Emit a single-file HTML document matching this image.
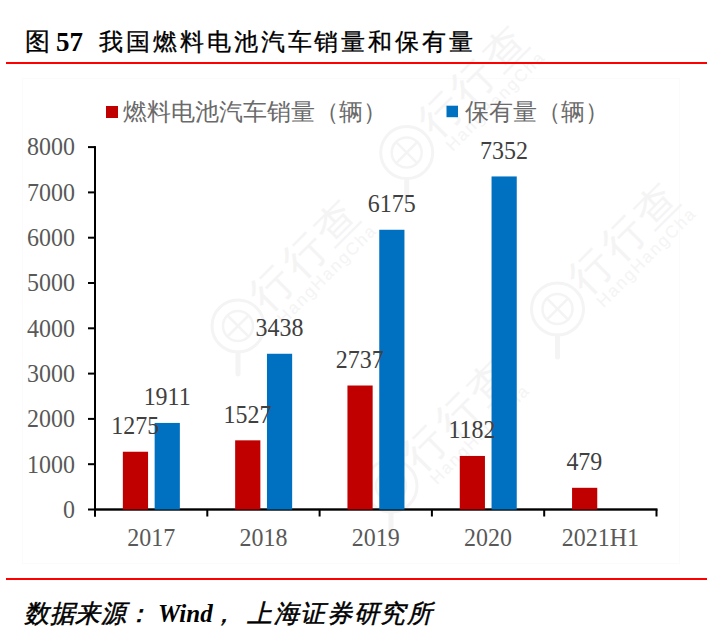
<!DOCTYPE html>
<html><head><meta charset="utf-8">
<style>
html,body{margin:0;padding:0;background:#fff;}
body{width:707px;height:642px;position:relative;overflow:hidden;font-family:"Liberation Serif",serif;}
.t{position:absolute;white-space:nowrap;line-height:1;color:#000;}
.rl{position:absolute;z-index:2;left:6px;width:701px;height:2px;background:#FF0000;}
.frame{position:absolute;left:22px;top:78px;width:656px;height:484px;border:1px solid #fbfbfb;}
svg{position:absolute;left:0;top:0;}
.ax{font-family:"Liberation Serif",serif;font-size:25.5px;fill:#595959;}
.dl{font-family:"Liberation Serif",serif;font-size:25.5px;fill:#404040;}
.lg{font-family:"Liberation Serif",serif;font-size:24px;fill:#6a6a6a;}
</style></head><body>
<div class="frame"></div>
<div class="t" style="left:25px;top:29px;font-size:25px;-webkit-text-stroke:0.3px #000;">图</div>
<div class="t" style="left:56px;top:29px;font-size:27px;font-weight:bold;">57</div>
<div class="t" style="left:99px;top:30px;font-size:24px;letter-spacing:2.93px;-webkit-text-stroke:0.3px #000;">我国燃料电池汽车销量和保有量</div>
<div class="rl" style="top:61.5px"></div>
<svg width="707" height="642" viewBox="0 0 707 642">
<g transform="translate(406.7,152.6)" fill="none" stroke="#f4f4f4">
<circle r="26" stroke-width="3"/><circle r="15" stroke-width="2.5"/>
<path d="M-10,-10 L10,10 M10,-10 L-10,10" stroke-width="2.5"/>
<path d="M0,27 L0,48" stroke-width="5" stroke-linecap="round"/>
<g transform="rotate(-45)" stroke="none" fill="#f4f4f4">
<text x="30" y="11" style="font-family:'Liberation Sans',sans-serif;font-size:42px;letter-spacing:4px;">行行查</text>
<text x="33" y="32" textLength="131" style="font-family:'Liberation Sans',sans-serif;font-size:17px;">HangHangCha</text>
</g></g>
<g transform="translate(557.5,309)" fill="none" stroke="#f4f4f4">
<circle r="26" stroke-width="3"/><circle r="15" stroke-width="2.5"/>
<path d="M-10,-10 L10,10 M10,-10 L-10,10" stroke-width="2.5"/>
<path d="M0,27 L0,48" stroke-width="5" stroke-linecap="round"/>
<g transform="rotate(-45)" stroke="none" fill="#f4f4f4">
<text x="30" y="11" style="font-family:'Liberation Sans',sans-serif;font-size:42px;letter-spacing:4px;">行行查</text>
<text x="33" y="32" textLength="131" style="font-family:'Liberation Sans',sans-serif;font-size:17px;">HangHangCha</text>
</g></g>
<g transform="translate(238,326)" fill="none" stroke="#f4f4f4">
<circle r="26" stroke-width="3"/><circle r="15" stroke-width="2.5"/>
<path d="M-10,-10 L10,10 M10,-10 L-10,10" stroke-width="2.5"/>
<path d="M0,27 L0,48" stroke-width="5" stroke-linecap="round"/>
<g transform="rotate(-45)" stroke="none" fill="#f4f4f4">
<text x="30" y="11" style="font-family:'Liberation Sans',sans-serif;font-size:42px;letter-spacing:4px;">行行查</text>
<text x="33" y="32" textLength="131" style="font-family:'Liberation Sans',sans-serif;font-size:17px;">HangHangCha</text>
</g></g>
<g transform="translate(391,486)" fill="none" stroke="#f4f4f4">
<circle r="26" stroke-width="3"/><circle r="15" stroke-width="2.5"/>
<path d="M-10,-10 L10,10 M10,-10 L-10,10" stroke-width="2.5"/>
<path d="M0,27 L0,48" stroke-width="5" stroke-linecap="round"/>
<g transform="rotate(-45)" stroke="none" fill="#f4f4f4">
<text x="30" y="11" style="font-family:'Liberation Sans',sans-serif;font-size:42px;letter-spacing:4px;">行行查</text>
<text x="33" y="32" textLength="131" style="font-family:'Liberation Sans',sans-serif;font-size:17px;">HangHangCha</text>
</g></g>
<rect x="106" y="106" width="12" height="12" fill="#C00000"/>
<text x="123" y="120" class="lg">燃料电池汽车销量（辆）</text>
<rect x="446.5" y="105.7" width="11.5" height="11.5" fill="#0070C0"/>
<text x="465" y="120" class="lg">保有量（辆）</text>
<rect x="88" y="508.50" width="7" height="2" fill="#000"/>
<text transform="translate(75.00,517.80) scale(0.94,1)" text-anchor="end" class="ax">0</text>
<rect x="88" y="463.20" width="7" height="2" fill="#000"/>
<text transform="translate(75.00,472.50) scale(0.94,1)" text-anchor="end" class="ax">1000</text>
<rect x="88" y="417.90" width="7" height="2" fill="#000"/>
<text transform="translate(75.00,427.20) scale(0.94,1)" text-anchor="end" class="ax">2000</text>
<rect x="88" y="372.60" width="7" height="2" fill="#000"/>
<text transform="translate(75.00,381.90) scale(0.94,1)" text-anchor="end" class="ax">3000</text>
<rect x="88" y="327.30" width="7" height="2" fill="#000"/>
<text transform="translate(75.00,336.60) scale(0.94,1)" text-anchor="end" class="ax">4000</text>
<rect x="88" y="282.00" width="7" height="2" fill="#000"/>
<text transform="translate(75.00,291.30) scale(0.94,1)" text-anchor="end" class="ax">5000</text>
<rect x="88" y="236.70" width="7" height="2" fill="#000"/>
<text transform="translate(75.00,246.00) scale(0.94,1)" text-anchor="end" class="ax">6000</text>
<rect x="88" y="191.40" width="7" height="2" fill="#000"/>
<text transform="translate(75.00,200.70) scale(0.94,1)" text-anchor="end" class="ax">7000</text>
<rect x="88" y="146.10" width="7" height="2" fill="#000"/>
<text transform="translate(75.00,155.40) scale(0.94,1)" text-anchor="end" class="ax">8000</text>
<rect x="94" y="146.10" width="2" height="370.40" fill="#000"/>
<rect x="94" y="508.30" width="563.50" height="2.4" fill="#000"/>
<rect x="94.00" y="509.50" width="2" height="7" fill="#000"/>
<rect x="206.30" y="509.50" width="2" height="7" fill="#000"/>
<rect x="318.60" y="509.50" width="2" height="7" fill="#000"/>
<rect x="430.90" y="509.50" width="2" height="7" fill="#000"/>
<rect x="543.20" y="509.50" width="2" height="7" fill="#000"/>
<rect x="655.50" y="509.50" width="2" height="7" fill="#000"/>
<rect x="122.85" y="451.74" width="25.2" height="57.76" fill="#C00000"/>
<rect x="154.65" y="422.93" width="25.2" height="86.57" fill="#0070C0"/>
<text transform="translate(151.15,546.00) scale(0.94,1)" text-anchor="middle" class="ax">2017</text>
<rect x="235.15" y="440.33" width="25.2" height="69.17" fill="#C00000"/>
<rect x="266.95" y="353.76" width="25.2" height="155.74" fill="#0070C0"/>
<text transform="translate(263.45,546.00) scale(0.94,1)" text-anchor="middle" class="ax">2018</text>
<rect x="347.45" y="385.51" width="25.2" height="123.99" fill="#C00000"/>
<rect x="379.25" y="229.77" width="25.2" height="279.73" fill="#0070C0"/>
<text transform="translate(375.75,546.00) scale(0.94,1)" text-anchor="middle" class="ax">2019</text>
<rect x="459.75" y="455.96" width="25.2" height="53.54" fill="#C00000"/>
<rect x="491.55" y="176.45" width="25.2" height="333.05" fill="#0070C0"/>
<text transform="translate(488.05,546.00) scale(0.94,1)" text-anchor="middle" class="ax">2020</text>
<rect x="572.05" y="487.80" width="25.2" height="21.70" fill="#C00000"/>
<text transform="translate(600.35,546.00) scale(0.94,1)" text-anchor="middle" class="ax">2021H1</text>
<text transform="translate(135.15,434.24) scale(0.94,1)" text-anchor="middle" class="dl">1275</text>
<text transform="translate(167.15,405.43) scale(0.94,1)" text-anchor="middle" class="dl">1911</text>
<text transform="translate(247.45,422.83) scale(0.94,1)" text-anchor="middle" class="dl">1527</text>
<text transform="translate(279.45,336.26) scale(0.94,1)" text-anchor="middle" class="dl">3438</text>
<text transform="translate(359.75,368.01) scale(0.94,1)" text-anchor="middle" class="dl">2737</text>
<text transform="translate(391.75,212.27) scale(0.94,1)" text-anchor="middle" class="dl">6175</text>
<text transform="translate(472.05,438.46) scale(0.94,1)" text-anchor="middle" class="dl">1182</text>
<text transform="translate(504.05,158.95) scale(0.94,1)" text-anchor="middle" class="dl">7352</text>
<text transform="translate(584.35,470.30) scale(0.94,1)" text-anchor="middle" class="dl">479</text>
</svg>
<div class="rl" style="top:577.5px"></div>
<div class="t" style="left:24px;top:601px;font-size:25px;font-style:italic;letter-spacing:0.6px;-webkit-text-stroke:0.5px #000;">数据来源：</div>
<div class="t" style="left:158px;top:601px;font-size:25px;font-style:italic;font-weight:bold;">Wind</div>
<div class="t" style="left:211px;top:601px;font-size:25px;font-style:italic;-webkit-text-stroke:0.5px #000;">，</div>
<div class="t" style="left:247px;top:601px;font-size:25px;font-style:italic;letter-spacing:1.67px;-webkit-text-stroke:0.5px #000;">上海证券研究所</div>
</body></html>
